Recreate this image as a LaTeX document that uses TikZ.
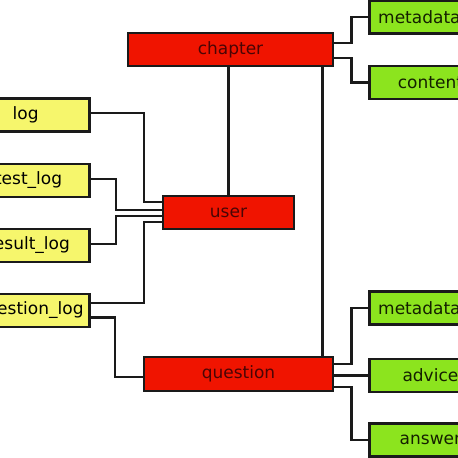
\documentclass[tikz,border=0pt]{standalone}
\usepackage{fontspec}
\setmainfont{DejaVu Sans}
\usepackage{tikz}
\usetikzlibrary{positioning,calc}
\definecolor{boxred}{HTML}{F01400}
\definecolor{redtext}{HTML}{4A0505}
\definecolor{logyellow}{HTML}{F6F66C}
\definecolor{leafgreen}{HTML}{8CE41E}
\definecolor{greentext}{HTML}{142000}
\definecolor{edge}{HTML}{1A1A1A}

\begin{document}
\begin{tikzpicture}[x=1pt,y=-1pt,
   tbl/.style={rectangle,draw=edge,line width=2.8pt,inner sep=0pt,minimum height=33pt,font=\fontsize{17}{19}\selectfont},
   core/.style={tbl,fill=boxred,text=redtext},
   logt/.style={tbl,fill=logyellow,text=black,minimum width=128pt,anchor=east},
   leaf/.style={tbl,fill=leafgreen,text=greentext,minimum width=122pt,anchor=west},
   link/.style={draw=edge,line width=2.5pt}]
  \useasboundingbox (0,0) rectangle (458,458);
  \clip (0,0) rectangle (458,458);
  % main tables
  \node[core,minimum width=205pt] (chapter) at (230.5,49.5) {chapter};
  \node[core,minimum width=131pt] (user) at (228.5,212.5) {user};
  \node[core,minimum width=189pt,minimum height=34pt] (question) at (238.5,374) {question};
  % log tables
  \node[logt] (log) at (91,115) {log};
  \node[logt,minimum width=122pt] (testlog) at (91,180.5) {test\_log};
  \node[logt,minimum width=122pt] (resultlog) at (91,245.5) {result\_log};
  \node[logt,minimum width=120pt] (questionlog) at (91,310.5) {question\_log};
  % leaf tables
  \node[leaf,minimum width=100pt] (chmeta) at (368,17) {metadata};
  \node[leaf] (content) at (368,82.5) {content};
  \node[leaf,minimum width=100pt] (qmeta) at (368,308) {metadata};
  \node[leaf] (advice) at (368,375.5) {advice};
  \node[leaf] (answer) at (368,440) {answer};
  % links
  \draw[link] (user.north) -- (user.north |- chapter.south);
  \draw[link] ([xshift=-12pt]chapter.south east) -- ([xshift=-12pt]question.north east);
  \draw[link] ([yshift=6.5pt]chapter.east) -- ++(17,0) |- (chmeta.west);
  \draw[link] ([yshift=-8.5pt]chapter.east) -- ++(17,0) |- (content.west);
  \draw[link] ([yshift=2pt]log.east) -- ++(53,0) |- ([yshift=10.5pt]user.west);
  \draw[link] ([yshift=1.5pt]testlog.east) -- ++(25,0) |- ([yshift=2.5pt]user.west);
  \draw[link] ([yshift=1.5pt]resultlog.east) -- ++(25,0) |- ([yshift=-3.5pt]user.west);
  \draw[link] ([yshift=7.5pt]questionlog.east) -- ++(53,0) |- ([yshift=-9.5pt]user.west);
  \draw[link] ([yshift=-7pt]questionlog.east) -- ++(24,0) |- ([yshift=-3pt]question.west);
  \draw[link] ([yshift=10pt]question.east) -- ++(17,0) |- (qmeta.west);
  \draw[link] (advice.west) -- (advice.west -| question.east);
  \draw[link] ([yshift=-13pt]question.east) -- ++(17,0) |- (answer.west);
\end{tikzpicture}
\end{document}
